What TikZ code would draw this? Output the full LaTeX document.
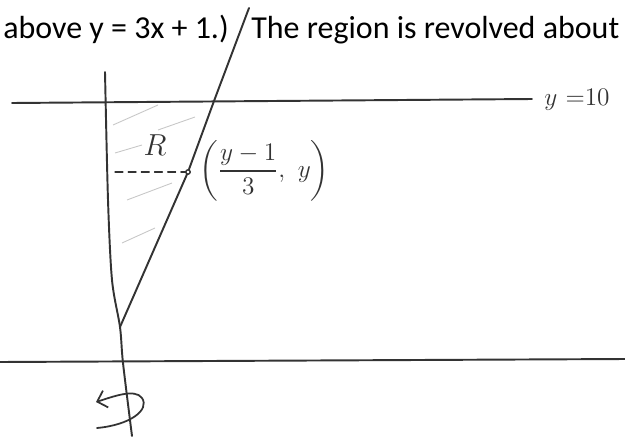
\documentclass[tikz,border=0pt]{standalone}
\usepackage{amsmath}
\usepackage{fontspec}
\newfontfamily\printfont{Carlito}
\usetikzlibrary{positioning,arrows.meta}

\begin{document}
\begin{tikzpicture}[x=0.02cm,y=-0.02cm,
  pen/.style={draw=black!80,line width=1.1pt,line cap=round,line join=round},
  hatch/.style={draw=black!22,line width=0.5pt},
  printed/.style={anchor=base west,inner sep=0pt,font=\printfont\fontsize{18.2}{22}\selectfont},
  hand/.style={text=black!80,inner sep=0pt}]
  \useasboundingbox (0,0) rectangle (625,436);
  \node[printed] (T1) at (3,38) {above y = 3x + 1.)};
  \node[printed] (T2) at (251,38) {The region is revolved about};

  \coordinate (A1) at (105,72);
  \coordinate (A2) at (108,200);
  \coordinate (A3) at (112,280);
  \coordinate (V) at (120,327);
  \coordinate (A4) at (123,363);
  \coordinate (A5) at (132,436);
  \coordinate (L1) at (249,8);
  \coordinate (L2) at (214,101);
  \coordinate (P) at (188,172);
  \coordinate (D) at (115,172);
  \coordinate (Y1) at (12,103);
  \coordinate (Y2) at (532,99);
  \coordinate (B1) at (0,362);
  \coordinate (B2) at (625,359);

  \draw[hatch] (113,125) -- (158,105);
  \draw[hatch] (158,130) -- (195,117);
  \draw[hatch] (115,153) -- (142,145);
  \draw[hatch] (127,200) -- (172,183);
  \draw[hatch] (122,243) -- (155,228);

  \draw[pen] plot[smooth,tension=0.5] coordinates {(A1) (A2) (A3) (V) (A4) (A5)};
  \draw[pen] (L1) -- (L2) -- (P) -- (V);
  \draw[pen] (Y1) -- (Y2);
  \draw[pen] (B1) -- (B2);
  \draw[pen,line width=0.7pt,dash pattern=on 4.5pt off 3pt] (D) -- (P);
  \draw[pen,line width=0.8pt,fill=white] (P) circle (2.2);

  \node[hand,font=\LARGE] (R) at (155,145) {$R$};
  \node[hand,font=\Large,anchor=west] (Pl) at (199,171) {$\biggl(\dfrac{y-1}{3},\ y\biggr)$};
  \node[hand,font=\Large,anchor=west] (Yl) at (544,100) {$y\ {=}10$};

  \draw[pen,line width=1pt,-{Straight Barb[length=5pt,width=10pt]}] (97,428)
    .. controls (130,425) and (150,410) .. (142,398)
    .. controls (135,388) and (112,397) .. (96,402);
\end{tikzpicture}
\end{document}
